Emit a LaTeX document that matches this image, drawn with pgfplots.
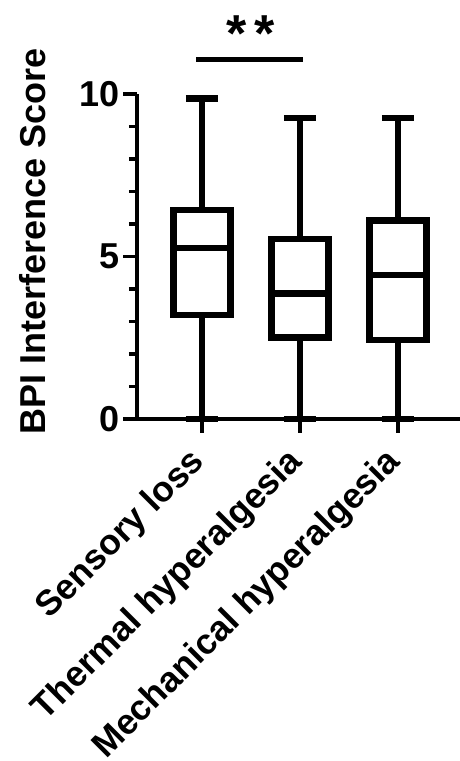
\documentclass[border=0pt]{standalone}
\usepackage{fontspec}
\setmainfont{Liberation Sans}
\usepackage{pgfplots}
\pgfplotsset{compat=1.18}
\usepgfplotslibrary{statistics}
\newcommand{\bigfont}{\bfseries\fontsize{36}{40}\selectfont}
\begin{document}
\begin{tikzpicture}
\begin{axis}[
  scale only axis,
  width=323pt, height=325pt,
  xmin=0.337, xmax=3.633,
  ymin=0, ymax=10,
  clip=false,
  axis x line*=bottom,
  axis y line*=left,
  axis line style={line width=3.3pt},
  tick align=outside,
  major tick length=13.5pt,
  minor tick length=8pt,
  every tick/.style={black, line width=3.3pt},
  xtick={1,2,3},
  xticklabels={Sensory loss, Thermal hyperalgesia, Mechanical hyperalgesia},
  ytick={0,5,10},
  minor y tick num=4,
  /pgf/number format/assume math mode=true,
  tick label style={font=\bigfont},
  xticklabel style={font=\bfseries\fontsize{35.5}{38}\selectfont, rotate=45, anchor=east},
  xticklabel shift=22pt,
  ylabel={BPI Interference Score},
  ylabel style={font=\bigfont, at={(axis description cs:-0.322,0.546)}, anchor=center},
  boxplot/draw direction=y,
]
\addplot[black, line width=6.8pt, line join=miter, boxplot prepared={median=5.26, upper quartile=6.43, lower quartile=3.2, upper whisker=9.85, lower whisker=0, draw position=1, box extend=0.58, whisker extend=0.33}] coordinates {};
\addplot[black, line width=6.8pt, line join=miter, boxplot prepared={median=3.85, upper quartile=5.54, lower quartile=2.52, upper whisker=9.26, lower whisker=0, draw position=2, box extend=0.58, whisker extend=0.33}] coordinates {};
\addplot[black, line width=6.8pt, line join=miter, boxplot prepared={median=4.43, upper quartile=6.12, lower quartile=2.43, upper whisker=9.26, lower whisker=0, draw position=3, box extend=0.58, whisker extend=0.33}] coordinates {};
\addplot[black, line width=5pt, no marks] coordinates {(0.94,11.05) (2.03,11.05)};
\node[font=\bfseries\fontsize{52}{52}\selectfont] at (axis cs:1.5,11.85) {*\kern8pt*};
\end{axis}
\pgfresetboundingbox
\path[use as bounding box] (-137pt,-342pt) rectangle (323pt,419pt);
\end{tikzpicture}
\end{document}
